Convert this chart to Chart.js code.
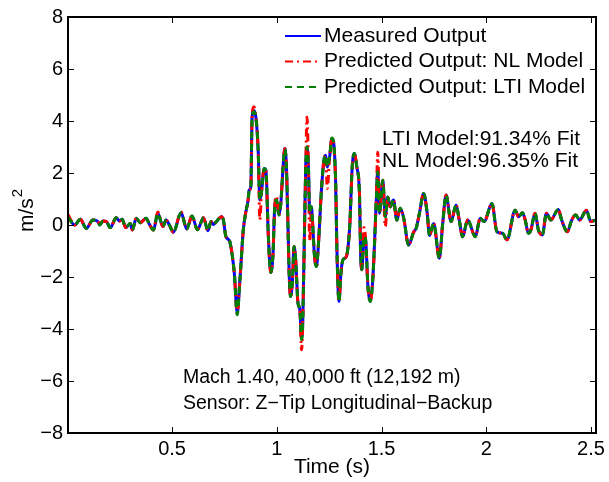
<!DOCTYPE html>
<html>
<head>
<meta charset="utf-8">
<script src="https://cdn.jsdelivr.net/npm/chart.js@4.4.1/dist/chart.umd.min.js"></script>
<style>
  html, body { margin: 0; padding: 0; background: #fff; }
  #wrap { width: 609px; height: 482px; position: relative; }
</style>
</head>
<body>
<div id="wrap"><canvas id="c" width="609" height="482"></canvas></div>
<script>
// ---------- data ----------
const timeS = [
  0.003,0.035,0.062,0.090,0.122,0.146,0.154,0.170,0.186,0.205,
  0.233,0.249,0.262,0.278,0.300,0.310,0.329,0.348,0.376,0.392,
  0.411,0.432,0.456,0.471,0.487,0.506,0.543,0.570,0.595,0.621,
  0.650,0.671,0.686,0.697,0.708,0.736,0.745,0.756,0.768,0.776,
  0.797,0.811,0.824,0.840,0.851,0.863,0.868,0.876,0.882,0.890,
  0.900,0.911,0.919,0.927,0.940,0.948,0.959,0.971,0.982,0.990,
  0.999,1.010,1.019,1.030,1.038,1.046,1.059,1.065,1.075,1.082,
  1.090,1.101,1.110,1.118,1.122,1.129,1.138,1.144,1.151,1.157,
  1.165,1.170,1.180,1.189,1.197,1.213,1.225,1.233,1.241,1.252,
  1.263,1.271,1.281,1.287,1.297,1.306,1.316,1.332,1.348,1.360,
  1.370,1.382,1.395,1.400,1.406,1.416,1.424,1.435,1.446,1.459,
  1.475,1.482,1.490,1.506,1.518,1.530,1.541,1.557,1.573,1.589,
  1.606,1.629,1.654,1.665,1.681,1.701,1.718,1.729,1.749,1.776,
  1.792,1.808,1.832,1.856,1.871,1.887,1.911,1.948,1.971,1.990,
  2.027,2.051,2.078,2.099,2.138,2.154,2.173,2.186,2.201,2.213,
  2.233,2.249,2.268,2.287,2.308,2.344,2.360,2.387,2.408,2.427,
  2.446,2.478,2.499,2.522
];
const measuredOutput = [
  0.32,0.0,0.22,-0.13,0.19,0.13,0.0,0.15,0.13,-0.1,
  0.28,0.15,0.22,-0.1,0.06,-0.19,0.26,0.09,0.26,0.02,
  -0.19,0.45,-0.06,0.19,0.0,-0.28,0.47,-0.15,0.35,-0.18,
  0.28,-0.22,0.13,0.02,0.1,0.32,0.19,-0.42,-0.55,-0.65,
  -1.85,-3.38,-2.1,-0.19,0.45,0.96,1.34,1.47,4.15,4.4,
  4.15,2.87,0.96,1.28,2.17,2.1,-0.32,-1.83,-1.08,0.7,
  0.96,0.38,0.83,2.23,2.94,2.23,-1.85,-2.75,-2.1,-0.83,
  -1.34,-3.0,-3.26,-4.34,-4.15,-1.6,2.23,3.0,2.23,0.45,
  0.7,0.19,-1.21,-1.6,-0.96,1.34,2.49,2.68,2.23,2.62,
  3.32,3.19,1.6,-0.96,-2.94,-1.85,-1.34,-1.21,-0.06,2.23,
  2.75,2.23,1.1,-1.08,-1.72,-0.45,-0.57,-2.36,-2.94,-1.98,
  0.96,2.11,0.45,1.72,0.32,1.08,0.7,0.96,0.19,0.64,
  0.26,-0.77,-0.26,-0.13,0.45,1.21,0.45,-0.4,0.06,-1.28,
  0.06,1.15,0.13,0.77,0.19,-0.45,0.19,-0.45,0.26,0.13,
  0.83,-0.26,-0.32,-0.57,0.57,0.32,0.47,0.19,-0.32,-0.19,
  0.45,-0.19,-0.38,0.45,0.19,0.6,0.19,-0.26,0.19,0.38,
  0.19,0.57,0.13,0.19
];
const nlModelOutput = [
  0.40,0.0,0.22,-0.13,0.19,0.13,0.0,0.15,0.13,-0.1,
  0.28,0.15,0.22,-0.1,0.06,-0.19,0.26,0.09,0.26,0.02,
  -0.19,0.50,-0.06,0.19,0.0,-0.28,0.50,-0.15,0.35,-0.18,
  0.28,-0.22,0.13,0.02,0.1,0.32,0.19,-0.42,-0.55,-0.65,
  -1.85,-3.40,-2.1,-0.19,0.45,0.96,1.34,1.47,4.20,4.55,
  4.15,2.87,0.20,1.28,2.17,2.1,-0.32,-1.83,-1.08,0.7,
  1.10,0.38,0.83,2.23,2.94,2.23,-1.85,-2.75,-2.1,-0.83,
  -1.34,-3.0,-3.26,-4.80,-4.30,-1.6,2.23,4.15,2.23,-0.60,
  0.50,0.19,-1.21,-1.6,-0.96,1.34,2.49,2.68,1.40,2.62,
  3.32,3.10,1.6,-0.96,-2.94,-1.85,-1.34,-1.21,-0.06,2.23,
  2.75,2.23,1.1,-1.08,-1.72,-0.10,-0.57,-2.36,-2.94,-1.98,
  0.96,2.80,0.45,1.72,-0.05,1.08,0.7,0.96,0.19,0.64,
  0.26,-0.77,-0.26,-0.13,0.45,1.21,0.45,-0.4,0.06,-1.28,
  0.06,1.15,0.13,0.77,0.19,-0.45,0.19,-0.45,0.26,0.13,
  0.83,-0.26,-0.32,-0.57,0.57,0.32,0.47,0.19,-0.32,-0.19,
  0.45,-0.19,-0.38,0.45,0.19,0.6,0.19,-0.26,0.19,0.38,
  0.19,0.57,0.13,0.19
];
const ltiModelOutput = [
  0.30,0.0,0.22,-0.13,0.19,0.13,0.0,0.15,0.13,-0.1,
  0.28,0.15,0.22,-0.1,0.06,-0.19,0.26,0.09,0.26,0.02,
  -0.19,0.45,-0.06,0.19,0.0,-0.28,0.47,-0.15,0.35,-0.18,
  0.28,-0.22,0.13,0.02,0.1,0.32,0.19,-0.42,-0.55,-0.65,
  -1.85,-3.45,-2.1,-0.19,0.45,0.96,1.34,1.47,4.10,4.35,
  4.15,2.87,0.96,1.28,2.17,2.1,-0.32,-1.83,-1.08,0.7,
  0.96,0.38,0.83,2.23,2.90,2.23,-1.85,-2.75,-2.1,-0.83,
  -1.34,-3.0,-3.26,-4.40,-4.15,-1.6,2.23,3.0,2.23,0.45,
  0.7,0.19,-1.21,-1.6,-0.96,1.34,2.49,2.68,2.23,2.62,
  3.35,3.19,1.6,-0.96,-2.94,-1.85,-1.34,-1.21,-0.06,2.23,
  2.75,2.23,1.1,-1.08,-1.72,-0.45,-0.57,-2.36,-2.94,-1.98,
  0.96,2.05,0.45,1.72,0.32,1.08,0.7,0.96,0.19,0.64,
  0.26,-0.77,-0.26,-0.13,0.45,1.21,0.45,-0.4,0.06,-1.28,
  0.06,1.15,0.13,0.77,0.19,-0.45,0.19,-0.45,0.26,0.13,
  0.83,-0.26,-0.32,-0.57,0.57,0.32,0.47,0.19,-0.32,-0.19,
  0.45,-0.19,-0.38,0.45,0.19,0.6,0.19,-0.26,0.19,0.38,
  0.19,0.57,0.13,0.19
];
const seriesLabels = ['Measured Output', 'Predicted Output: NL Model', 'Predicted Output: LTI Model'];
const xTickValues = [0.5, 1, 1.5, 2, 2.5];
const yTickValues = [-8, -6, -4, -2, 0, 2, 4, 6, 8];
const xAxisTitle = 'Time (s)';
const yAxisTitleMain = 'm/s';
const yAxisTitleSup = '2';
const fitNotes = ['LTI Model:91.34% Fit', 'NL Model:96.35% Fit'];
const flightNotes = ['Mach 1.40, 40,000 ft (12,192 m)', 'Sensor: Z\u2212Tip Longitudinal\u2212Backup'];

// ---------- chart ----------
const FONT = "'Liberation Sans', Arial, Helvetica, sans-serif";
const toPts = vals => timeS.map((t, i) => ({ x: t, y: vals[i] }));
const minusFix = v => String(v).replace('-', '\u2212');

const decor = {
  id: 'decor',
  afterDraw(chart) {
    const { ctx, chartArea: a, scales: { x, y } } = chart;
    ctx.save();
    // inward tick marks on all four sides
    ctx.strokeStyle = '#000';
    ctx.lineWidth = 1;
    ctx.beginPath();
    xTickValues.forEach(v => {
      const px = Math.round(x.getPixelForValue(v)) + 0.5;
      ctx.moveTo(px, a.bottom); ctx.lineTo(px, a.bottom - 6);
      ctx.moveTo(px, a.top); ctx.lineTo(px, a.top + 6);
    });
    yTickValues.forEach(v => {
      const py = Math.round(y.getPixelForValue(v)) + 0.5;
      ctx.moveTo(a.left, py); ctx.lineTo(a.left + 6, py);
      ctx.moveTo(a.right, py); ctx.lineTo(a.right - 6, py);
    });
    ctx.stroke();
    // box
    ctx.lineWidth = 2;
    ctx.strokeRect(a.left, a.top, a.right - a.left, a.bottom - a.top);

    ctx.fillStyle = '#000';
    // x axis title
    ctx.font = '21px ' + FONT;
    ctx.textAlign = 'center';
    ctx.textBaseline = 'middle';
    ctx.fillText(xAxisTitle, (a.left + a.right) / 2, 467);

    // y axis title (rotated, with superscript)
    ctx.save();
    ctx.translate(33, 211);
    ctx.rotate(-Math.PI / 2);
    ctx.textBaseline = 'alphabetic';
    ctx.textAlign = 'left';
    ctx.font = '21px ' + FONT;
    const w1 = ctx.measureText(yAxisTitleMain).width;
    ctx.font = '15px ' + FONT;
    const w2 = ctx.measureText(yAxisTitleSup).width;
    const sx = -(w1 + w2) / 2;
    ctx.font = '21px ' + FONT;
    ctx.fillText(yAxisTitleMain, sx, 0);
    ctx.font = '15px ' + FONT;
    ctx.fillText(yAxisTitleSup, sx + w1 + 1, -11);
    ctx.restore();

    // legend
    const legY = [36, 61.5, 87];
    chart.data.datasets.forEach((ds, i) => {
      ctx.save();
      ctx.strokeStyle = ds.borderColor;
      ctx.lineWidth = 2;
      ctx.setLineDash(ds.borderDash || []);
      ctx.beginPath();
      ctx.moveTo(285, legY[i]); ctx.lineTo(321, legY[i]);
      ctx.stroke();
      ctx.restore();
      ctx.font = '21px ' + FONT;
      ctx.textAlign = 'left';
      ctx.textBaseline = 'middle';
      ctx.fillText(ds.label, 324, legY[i]);
    });

    // notes
    ctx.font = '21px ' + FONT;
    ctx.textAlign = 'left';
    ctx.textBaseline = 'middle';
    ctx.fillText(fitNotes[0], 382, 139);
    ctx.fillText(fitNotes[1], 382, 161);
    ctx.font = '19.5px ' + FONT;
    ctx.fillText(flightNotes[0], 183, 378);
    ctx.fillText(flightNotes[1], 183, 404);
    ctx.restore();
  }
};

const commonLine = { pointRadius: 0, borderWidth: 3, fill: false, cubicInterpolationMode: 'monotone' };

new Chart(document.getElementById('c'), {
  type: 'line',
  data: {
    datasets: [
      Object.assign({ label: seriesLabels[0], data: toPts(measuredOutput), borderColor: '#0000ff', borderDash: [], order: 3 }, commonLine),
      Object.assign({ label: seriesLabels[1], data: toPts(nlModelOutput), borderColor: '#ff0000', borderDash: [8, 4, 2, 4], order: 2 }, commonLine),
      Object.assign({ label: seriesLabels[2], data: toPts(ltiModelOutput), borderColor: '#008000', borderDash: [7, 5], order: 1 }, commonLine)
    ]
  },
  options: {
    responsive: false,
    animation: false,
    events: [],
    layout: { padding: { top: 16, right: 12, left: 0, bottom: 0 } },
    plugins: { legend: { display: false }, tooltip: { enabled: false }, title: { display: false } },
    scales: {
      x: {
        type: 'linear',
        min: 0.003,
        max: 2.524,
        grid: { display: false, drawTicks: false },
        border: { display: false },
        afterBuildTicks: s => { s.ticks = xTickValues.map(v => ({ value: v })); },
        afterFit: s => { s.height = 49; },
        ticks: { color: '#000', font: { family: FONT, size: 20 }, padding: 4, maxRotation: 0, autoSkip: false,
                 callback: v => minusFix(v) }
      },
      y: {
        type: 'linear',
        min: -8,
        max: 8,
        grid: { display: false, drawTicks: false },
        border: { display: false },
        afterBuildTicks: s => { s.ticks = yTickValues.map(v => ({ value: v })); },
        afterFit: s => { s.width = 68; },
        ticks: { color: '#000', font: { family: FONT, size: 20 }, padding: 5, autoSkip: false,
                 callback: v => minusFix(v) }
      }
    }
  },
  plugins: [decor]
});
</script>
</body>
</html>
